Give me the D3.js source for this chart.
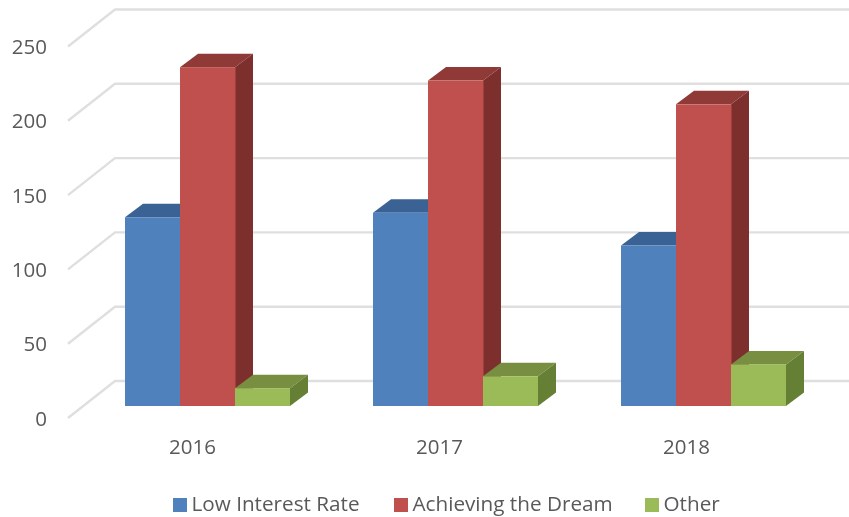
<!DOCTYPE html>
<html>
<head>
<meta charset="utf-8">
<script src="https://cdn.jsdelivr.net/npm/d3@7"></script>
<style>
  html, body { margin: 0; background: #fff; }
  text { font-family: "Open Sans", sans-serif; fill: #595959; }
  svg { filter: blur(0.45px); }
</style>
</head>
<body>
<div id="chart"></div>
<script>
const years = ["2016", "2017", "2018"]
const seriesNames = ["Low Interest Rate", "Achieving the Dream", "Other"]
const lowInterest = [127, 130, 108]
const achieving = [228, 219, 203]
const other = [12, 20, 28]
const axisTicks = [0, 50, 100, 150, 200, 250]

const frontColors = ["#4f81bd", "#c0504d", "#9bbb59"]
const topColors = ["#3a6295", "#8f3a37", "#788f42"]
const sideColors = ["#2f5080", "#7d2f2d", "#657f35"]

const width = 849, height = 517
const depthX = 18, depthY = 13.5   // bar depth, oblique
const wallX = 47, wallY = 37       // floor edge to back wall

const seriesValues = [lowInterest, achieving, other]

const svg = d3.select("#chart").append("svg")
    .attr("width", width)
    .attr("height", height)
    .style("display", "block")

// y on the front edge of the floor, labels sit on this one
const y = d3.scaleLinear().domain([0, 250]).range([418, 46.5])
const x0 = d3.scaleBand().domain(years).range([83.5, 827.5]).round(true)
const x1 = d3.scaleBand().domain(seriesNames).range([41, 206]).round(true)
const xLabels = d3.scaleBand().domain(years).range([69, 810])

// bars stand a bit behind the front edge
const barY = v => y(v) - 12

// Gridlines
svg.append("g")
    .attr("fill", "none")
    .attr("stroke", "#dfdfdf")
    .attr("stroke-width", 2.4)
    .selectAll("polyline")
    .data(axisTicks)
    .join("polyline")
    .attr("points", d => `68,${y(d)} ${68 + wallX},${y(d) - wallY} ${width},${y(d) - wallY}`)

// Draw bars
years.forEach((year, i) => {
    const g = svg.append("g").attr("class", "group")
    seriesNames.forEach((name, s) => {
        const left = x0(year) + x1(name)
        const right = left + x1.bandwidth()
        const top = barY(seriesValues[s][i])
        const base = barY(0)
        g.append("polygon")
            .attr("fill", topColors[s])
            .attr("points", `${left},${top} ${left + depthX},${top - depthY} ${right + depthX},${top - depthY} ${right},${top}`)
        g.append("polygon")
            .attr("fill", sideColors[s])
            .attr("points", `${right},${top} ${right + depthX},${top - depthY} ${right + depthX},${base - depthY} ${right},${base}`)
        // overlap the next bar by a hair so no light seam shows
        g.append("rect")
            .attr("fill", frontColors[s])
            .attr("x", left)
            .attr("y", top)
            .attr("width", right - left + (s < 2 ? 0.5 : 0))
            .attr("height", base - top)
    })
})

// Axes
svg.append("g")
    .attr("transform", "translate(47,0)")
    .call(d3.axisLeft(y).tickValues(axisTicks).tickSize(0).tickPadding(0))
    .call(g => g.select(".domain").remove())
    .call(g => g.selectAll("text")
        .attr("font-size", 20.5)
        .attr("font-family", "Open Sans")
        .attr("dy", "0.35em")
        .style("fill", "#595959"))

svg.append("g")
    .attr("transform", "translate(0,454)")
    .call(d3.axisBottom(xLabels).tickSize(0).tickPadding(0))
    .call(g => g.select(".domain").remove())
    .call(g => g.selectAll("text")
        .attr("font-size", 20.5)
        .attr("font-family", "Open Sans")
        .attr("dy", "0")
        .style("fill", "#595959"))

// Legend
const legendX = [173, 394, 645]
const legend = svg.append("g")
    .selectAll("g")
    .data(seriesNames)
    .join("g")
    .attr("transform", (d, i) => `translate(${legendX[i]},498)`)
legend.append("rect")
    .attr("width", 14)
    .attr("height", 14)
    .attr("fill", (d, i) => frontColors[i])
legend.append("text")
    .attr("x", 18.5)
    .attr("y", 13)
    .attr("font-size", 20.7)
    .text(d => d)
</script>
</body>
</html>
